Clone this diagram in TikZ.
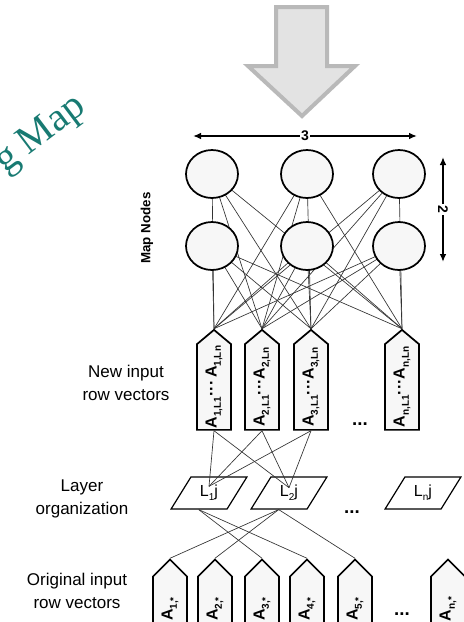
\documentclass[tikz,border=0pt]{standalone}
\usepackage{fontspec}
\setmainfont{Liberation Sans}
\newfontfamily\titlefont{Liberation Serif}
\usetikzlibrary{shapes.geometric,shapes.symbols,backgrounds,arrows.meta}
\definecolor{somteal}{RGB}{24,122,114}
\newcommand{\lowidx}[1]{\raisebox{-0.5ex}{\fontsize{7.5}{8}\selectfont #1}}

\begin{document}
\begin{tikzpicture}
[x=0.75pt,y=-0.75pt,
mapnode/.style={ellipse,draw,line width=1.3pt,fill=gray!6,minimum width=39pt,minimum height=36pt,inner sep=0pt},
rowvec/.style={signal,signal to=east,signal from=nothing,signal pointer angle=100,draw,line width=1.3pt,fill=gray!6,rotate=90,minimum height=25.5pt,minimum width=75pt,inner sep=1pt,font=\bfseries\fontsize{12}{13}\selectfont},
origvec/.style={rowvec,signal pointer angle=90,minimum width=61.5pt},
layerbox/.style={trapezium,trapezium left angle=58,trapezium right angle=122,trapezium stretches=true,draw,line width=0.9pt,fill=white,minimum width=57pt,minimum height=24pt,inner sep=0pt,font=\fontsize{12}{14}\selectfont},
link/.style={line width=0.5pt,black!80},
sidelabel/.style={align=center,font=\fontsize{12.75}{17}\selectfont},
dots/.style={font=\bfseries\fontsize{14}{14}\selectfont},
dim/.style={{Latex[length=6pt,width=5pt]}-{Latex[length=6pt,width=5pt]},line width=1.2pt}]
\useasboundingbox (0,0) rectangle (464,622);
\clip (0,0) rectangle (464,622);

\node[rotate=37,text=somteal,font=\titlefont\fontsize{30}{30}\selectfont] (title) at (41,135) {g Map};

\draw[line width=3pt,draw=gray!55,fill=gray!22] (276,7) -- (327,7) -- (327,66) -- (355,66) -- (302,116) -- (248,66) -- (276,66) -- cycle;

\coordinate (w3l) at (193,136);
\coordinate (w3r) at (417,136);
\draw[dim] (w3l) -- node[fill=white,inner sep=1pt,font=\bfseries\fontsize{10.5}{12}\selectfont] (three) {3} (w3r);
\coordinate (h2t) at (443,157);
\coordinate (h2b) at (443,262);
\draw[dim] (h2t) -- node[fill=white,inner sep=1pt,rotate=-90,font=\bfseries\fontsize{10.5}{12}\selectfont] (two) {2} (h2b);

\node[rotate=90,font=\bfseries\fontsize{10}{11}\selectfont] (maplab) at (147,228) {Map Nodes};

\foreach \x [count=\i] in {212,307,399}{
\node[mapnode] (t\i) at (\x,174) {};
\node[mapnode] (b\i) at (\x,246) {};
}

\node[rowvec] (v1) at (214,387) {A\lowidx{1,L1}···\,A\lowidx{1,Ln}};
\node[rowvec] (v2) at (262,387) {A\lowidx{2,L1}···A\lowidx{2,Ln}};
\node[rowvec] (v3) at (311,387) {A\lowidx{3,L1}···A\lowidx{3,Ln}};
\node[rowvec] (vn) at (402,387) {A\lowidx{n,L1}···A\lowidx{n,Ln}};
\node[dots] (vdots) at (360,424) {...};

\begin{pgfonlayer}{background}
\foreach \r in {t,b}
\foreach \c in {1,2,3}
\foreach \v in {v1,v2,v3,vn}
\draw[link] (\r\c.center) -- (\v.east);
\end{pgfonlayer}

\node[layerbox] (L1) at (209,493) {L\lowidx{1}j};
\node[layerbox] (L2) at (289,493) {L\lowidx{2}j};
\node[layerbox] (Ln) at (423,493) {L\lowidx{n}j};
\node[dots] (ldots) at (352,512) {...};
\coordinate (L1in) at ([yshift=5pt]L1.center);
\coordinate (L2in) at ([yshift=4pt]L2.center);

\foreach \v in {v1,v2,v3}{
\draw[link] (\v.west) -- (L1in);
\draw[link] (\v.west) -- (L2in);
}

\foreach \x/\k in {170/1,215/2,262/3,307/4,355/5,448/n}
\node[origvec] (o\k) at (\x,609) {A\lowidx{\k,*}};
\node[dots] (odots) at (402,614) {...};

\draw[link] (L1.bottom side) -- (o3.east);
\draw[link] (L1.bottom side) -- (o4.east);
\draw[link] (L2.bottom side) -- (o1.east);
\draw[link] (L2.bottom side) -- (o2.east);
\draw[link] (L2.bottom side) -- (o5.east);

\node[sidelabel] (newlab) at (126,383) {New input\\row vectors};
\node[sidelabel] (laylab) at (82,499) {Layer\\organization};
\node[sidelabel] (origlab) at (77,591) {Original input\\row vectors};
\end{tikzpicture}
\end{document}
